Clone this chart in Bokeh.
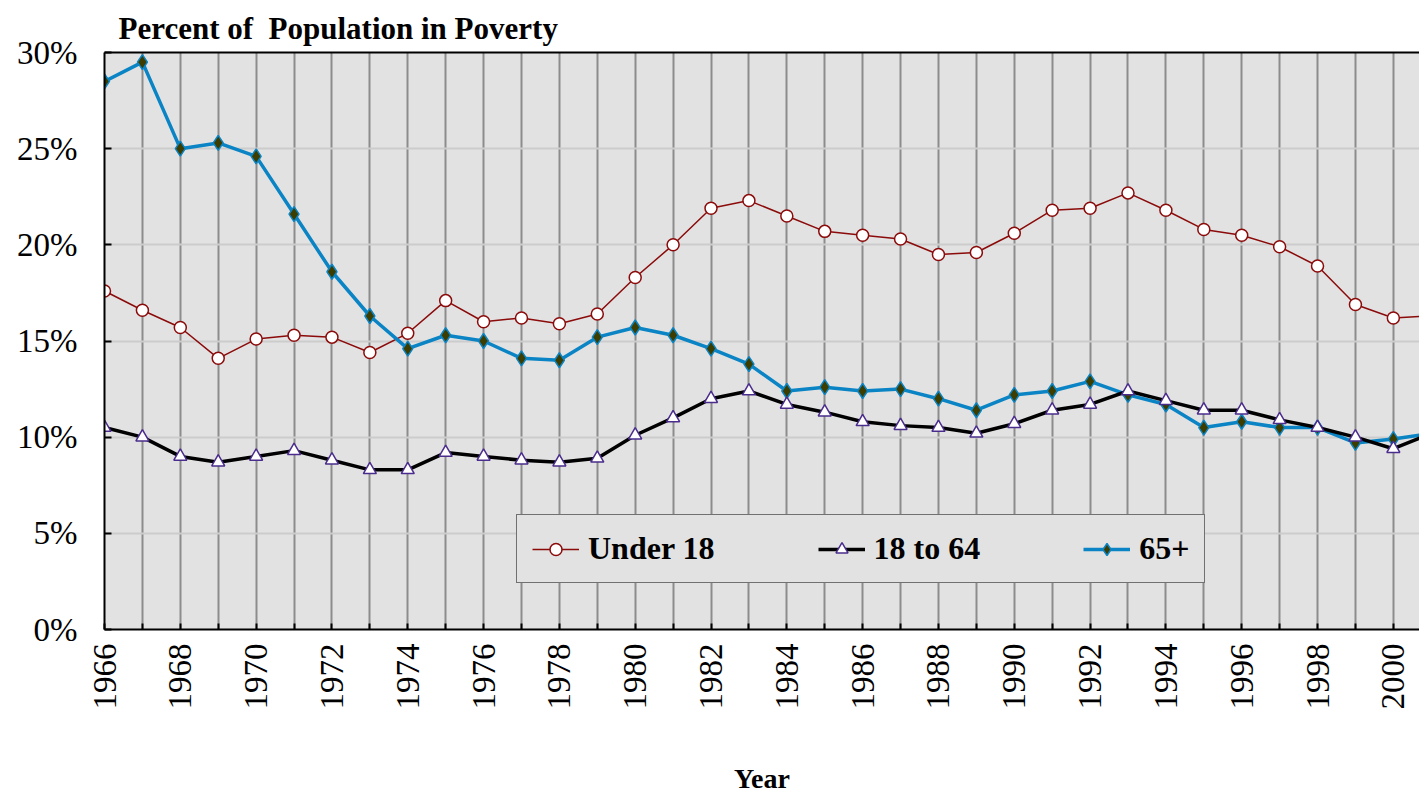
import math
from bokeh.plotting import figure
from bokeh.models import (Range1d, LinearAxis, FixedTicker, SingleIntervalTicker,
                          PrintfTickFormatter, Legend, LegendItem, Title)
from bokeh.embed import file_html
from bokeh.resources import INLINE

years = list(range(1966, 2002))
under18 = [17.6, 16.6, 15.7, 14.1, 15.1, 15.3, 15.2, 14.4, 15.4, 17.1,
           16.0, 16.2, 15.9, 16.4, 18.3, 20.0, 21.9, 22.3, 21.5, 20.7,
           20.5, 20.3, 19.5, 19.6, 20.6, 21.8, 21.9, 22.7, 21.8, 20.8,
           20.5, 19.9, 18.9, 16.9, 16.2, 16.3]
age18_64 = [10.5, 10.0, 9.0, 8.7, 9.0, 9.3, 8.8, 8.3, 8.3, 9.2,
            9.0, 8.8, 8.7, 8.9, 10.1, 11.0, 12.0, 12.4, 11.7, 11.3,
            10.8, 10.6, 10.5, 10.2, 10.7, 11.4, 11.7, 12.4, 11.9, 11.4,
            11.4, 10.9, 10.5, 10.0, 9.4, 10.2]
age65 = [28.5, 29.5, 25.0, 25.3, 24.6, 21.6, 18.6, 16.3, 14.6, 15.3,
         15.0, 14.1, 14.0, 15.2, 15.7, 15.3, 14.6, 13.8, 12.4, 12.6,
         12.4, 12.5, 12.0, 11.4, 12.2, 12.4, 12.9, 12.2, 11.7, 10.5,
         10.8, 10.5, 10.5, 9.7, 9.9, 10.2]
labels = ["Under 18", "18 to 64", "65+"]
y_ticks = [0, 5, 10, 15, 20, 25, 30]

SERIF = "Liberation Serif"
BG = "#E2E2E2"

p = figure(width=1419, height=796, output_backend="svg", toolbar_location=None,
           x_range=Range1d(1966, 2000.69), y_range=Range1d(0, 30),
           min_border_left=104, min_border_right=0, min_border_top=52,
           min_border_bottom=166, background_fill_color=BG,
           border_fill_color="white", outline_line_color=None)

xa = p.below[0]
ya = p.left[0]

# x axis
xa.ticker = SingleIntervalTicker(interval=1, num_minor_ticks=0)
xa.major_label_overrides = {y: ("" if y % 2 else str(y)) for y in range(1960, 2010)}
xa.major_label_orientation = math.pi / 2
xa.major_label_text_font = SERIF
xa.major_label_text_font_size = "33px"
xa.major_label_text_color = "black"
xa.major_label_standoff = 14
xa.major_tick_in = 6
xa.major_tick_out = 0
xa.major_tick_line_color = "black"
xa.major_tick_line_width = 2
xa.minor_tick_line_color = None
xa.axis_line_width = 2
xa.axis_line_color = "black"
xa.axis_label = "Year"
xa.axis_label_text_font = SERIF
xa.axis_label_text_font_size = "28px"
xa.axis_label_text_font_style = "bold"
xa.axis_label_text_color = "black"
xa.axis_label_standoff = 50

# y axis
ya.ticker = FixedTicker(ticks=y_ticks)
ya.formatter = PrintfTickFormatter(format="%d%%")
ya.major_label_text_font = SERIF
ya.major_label_text_font_size = "33px"
ya.major_label_text_color = "black"
ya.major_label_standoff = 27
ya.major_tick_in = 7
ya.major_tick_out = 0
ya.major_tick_line_color = "black"
ya.major_tick_line_width = 2
ya.minor_tick_line_color = None
ya.axis_line_width = 2
ya.axis_line_color = "black"

# top border axis
top = LinearAxis(ticker=FixedTicker(ticks=[]), axis_line_width=2,
                 axis_line_color="black", major_tick_line_color=None,
                 minor_tick_line_color=None)
p.add_layout(top, "above")

# title
t = Title(text="Percent of \u00a0Population in Poverty", align="left", offset=14,
          text_font=SERIF, text_font_size="31px", text_font_style="bold",
          text_color="black", standoff=14)
p.add_layout(t, "above")

# grids
p.xgrid.grid_line_color = "#8C8C8C"
p.xgrid.grid_line_width = 2
p.ygrid.grid_line_color = "#CCCCCC"
p.ygrid.grid_line_width = 2

RED = "#8B0A0A"
BLUE = "#0A84C4"

l1 = p.line(years, under18, line_color=RED, line_width=1.5)
m1 = p.scatter(years, under18, marker="circle", size=12, fill_color="white",
               line_color=RED, line_width=1.5)
l3 = p.line(years, age65, line_color=BLUE, line_width=3.5)
m3 = p.scatter(years, age65, marker="diamond", size=15, fill_color="#3D3D00",
               line_color=BLUE, line_width=1.5)
l2 = p.line(years, age18_64, line_color="black", line_width=3.5)
m2 = p.scatter(years, age18_64, marker="triangle", size=13, fill_color="white",
               line_color="#4A2C8C", line_width=1.5)

legend = Legend(items=[LegendItem(label=labels[0], renderers=[l1, m1]),
                       LegendItem(label=labels[1], renderers=[l2, m2]),
                       LegendItem(label=labels[2], renderers=[l3, m3])],
                orientation="horizontal", location=(412, 46),
                padding=15, spacing=103, glyph_width=47, glyph_height=30,
                label_standoff=9, margin=0,
                label_text_font=SERIF, label_text_font_size="32px",
                label_text_font_style="bold", label_text_color="black",
                background_fill_color=BG, background_fill_alpha=1.0,
                border_line_color="black", border_line_width=1.5)
p.add_layout(legend, "center")

open("out.html", "w").write(file_html(p, INLINE))
